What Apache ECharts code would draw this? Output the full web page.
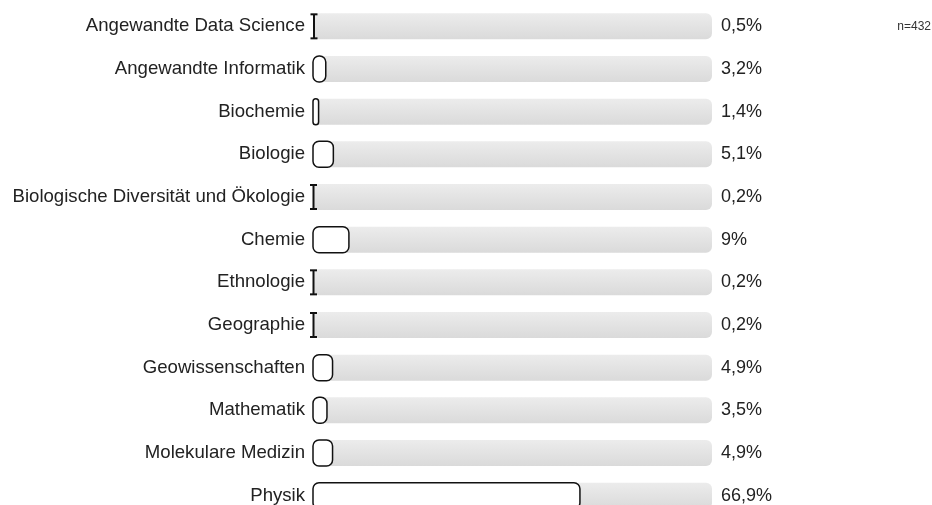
<!DOCTYPE html>
<html>
<head>
<meta charset="utf-8">
<script src="https://cdn.jsdelivr.net/npm/echarts@6/dist/echarts.min.js"></script>
<style>
  html, body { margin: 0; padding: 0; background: #fff; }
  #main { width: 932px; height: 505px; }
</style>
</head>
<body>
<div id="main"></div>
<script>
const categories = [
  "Angewandte Data Science",
  "Angewandte Informatik",
  "Biochemie",
  "Biologie",
  "Biologische Diversität und Ökologie",
  "Chemie",
  "Ethnologie",
  "Geographie",
  "Geowissenschaften",
  "Mathematik",
  "Molekulare Medizin",
  "Physik",
];
const shares = [0.5, 3.2, 1.4, 5.1, 0.2, 9, 0.2, 0.2, 4.9, 3.5, 4.9, 66.9];
const trackMax = 100;
const sampleSize = "n=432";

const chart = echarts.init(document.getElementById("main"));
const fontFamily = "'Liberation Sans', Arial, sans-serif";

const fmt = (v) => String(v).replace(".", ",") + "%";

// white bars with black outline, thin ones drawn as an "I"
const renderBar = (params, api) => {
  const cat = api.value(0);
  const start = api.coord([0, cat]);
  const end = api.coord([api.value(1), cat]);
  const h = api.size([0, 1])[1] * 0.61;
  const x0 = start[0];
  const y = start[1] - h / 2;
  const w = end[0] - x0;
  const stroke = { fill: "#fff", stroke: "#111", lineWidth: 1.5 };
  if (w >= 4) {
    return {
      type: "rect",
      shape: { x: x0, y: y, width: w, height: h, r: Math.min(6, w / 2) },
      style: stroke,
    };
  }
  const cx = x0 + Math.max(w, 1) / 2;
  const lineStyle = { stroke: "#111", lineWidth: 2 };
  return {
    type: "group",
    children: [
      { type: "line", shape: { x1: cx, y1: y + 1, x2: cx, y2: y + h - 1 }, style: lineStyle },
      { type: "line", shape: { x1: cx - 3.5, y1: y + 1, x2: cx + 3.5, y2: y + 1 }, style: lineStyle },
      { type: "line", shape: { x1: cx - 3.5, y1: y + h - 1, x2: cx + 3.5, y2: y + h - 1 }, style: lineStyle },
    ],
  };
};

option = {
  animation: false,
  grid: { left: 313, right: 220, top: 5, bottom: -12, containLabel: false, outerBoundsMode: "none" },
  xAxis: {
    type: "value",
    min: 0,
    max: trackMax,
    show: false,
  },
  yAxis: {
    type: "category",
    data: categories,
    inverse: true,
    axisLine: { show: false },
    axisTick: { show: false },
    splitLine: { show: false },
    axisLabel: {
      margin: 8,
      fontSize: 18.6,
      color: "#222",
      fontFamily: fontFamily,
    },
  },
  graphic: [
    {
      type: "text",
      right: 1,
      top: 21,
      style: { text: sampleSize, fontSize: 12, fill: "#333", fontFamily: fontFamily },
    },
  ],
  series: [
    {
      type: "bar",
      silent: true,
      barWidth: 26,
      data: categories.map(() => trackMax),
      itemStyle: {
        borderRadius: 6,
        color: new echarts.graphic.LinearGradient(0, 0, 0, 1, [
          { offset: 0, color: "#ececec" },
          { offset: 1, color: "#dadada" },
        ]),
      },
      label: {
        show: true,
        position: "right",
        distance: 9,
        fontSize: 18,
        color: "#222",
        fontFamily: fontFamily,
        formatter: (p) => fmt(shares[p.dataIndex]),
      },
    },
    {
      type: "custom",
      z: 5,
      renderItem: renderBar,
      encode: { x: 1, y: 0 },
      data: shares.map((v, i) => [i, v]),
    },
  ],
};

chart.setOption(option);
</script>
</body>
</html>
